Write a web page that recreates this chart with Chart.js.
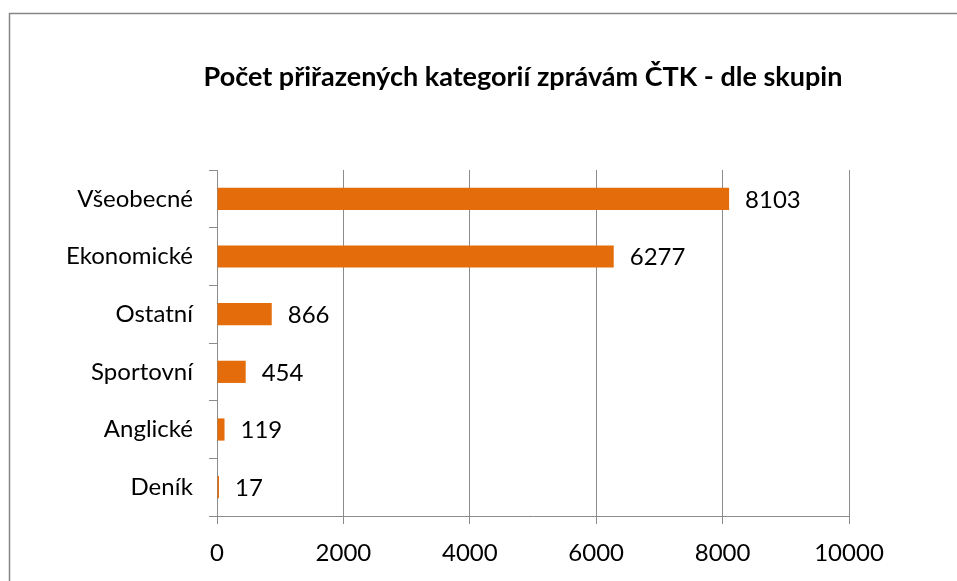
<!DOCTYPE html>
<html>
<head>
<meta charset="utf-8">
<script src="https://cdn.jsdelivr.net/npm/chart.js@4"></script>
<style>
  html, body { margin: 0; padding: 0; background: #fff; }
  #wrap { width: 957px; height: 581px; position: relative; }
</style>
</head>
<body>
<div id="wrap"><canvas id="myChart" width="957" height="581"></canvas></div>
<script>
const titulek = 'Počet přiřazených kategorií zprávám ČTK - dle skupin'
const skupiny = ['Všeobecné', 'Ekonomické', 'Ostatní', 'Sportovní', 'Anglické', 'Deník']
const pocty = [8103, 6277, 866, 454, 119, 17]
const osaX = [0, 2000, 4000, 6000, 8000, 10000]

const oranzova = '#E46C0A'
const seda = '#8C8C8C'
const pismo = 'Lato, "Open Sans", sans-serif'

// ramecek a nadpis
const ramecek = {
  id: 'ramecek',
  beforeDraw(chart) {
    const c = chart.ctx
    c.save()
    c.fillStyle = '#fff'
    c.fillRect(0, 0, chart.width, chart.height)
    c.strokeStyle = '#868686'
    c.lineWidth = 1.5
    c.beginPath()
    c.moveTo(9.5, chart.height)
    c.lineTo(9.5, 13.5)
    c.lineTo(chart.width, 13.5)
    c.stroke()
    c.fillStyle = '#000'
    c.font = 'bold 27px ' + pismo
    c.textAlign = 'center'
    c.textBaseline = 'middle'
    c.fillText(titulek, 523, 77)
    c.restore()
  }
}

// hodnoty za koncem sloupce
const popisky = {
  id: 'popisky',
  afterDatasetsDraw(chart) {
    const c = chart.ctx
    const meta = chart.getDatasetMeta(0)
    c.save()
    c.fillStyle = '#000'
    c.font = '24px ' + pismo
    c.textAlign = 'left'
    c.textBaseline = 'middle'
    meta.data.forEach((bar, i) => {
      c.fillText(String(pocty[i]), bar.x + 16, bar.y + 1)
    })
    c.restore()
  }
}

const data = {
  labels: skupiny,
  datasets: [{
    data: pocty,
    backgroundColor: oranzova,
    borderWidth: 0,
    minBarLength: 2,
    barPercentage: 0.385,
    categoryPercentage: 1
  }]
}

const opcoes = {
  indexAxis: 'y',
  responsive: false,
  animation: false,
  layout: {
    padding: { top: 170, left: 0, right: 108, bottom: 0 }
  },
  plugins: {
    legend: { display: false },
    tooltip: { enabled: false }
  },
  scales: {
    x: {
      min: 0,
      max: 10000,
      afterBuildTicks(axis) {
        axis.ticks = osaX.map(v => ({ value: v }))
      },
      afterFit(axis) { axis.height = 65 },
      grid: { color: seda, tickLength: 8, lineWidth: 1 },
      border: { color: seda },
      ticks: {
        color: '#000',
        padding: 15,
        maxRotation: 0,
        callback: v => String(v),
        font: { family: pismo, size: 24 }
      }
    },
    y: {
      afterFit(axis) { axis.width = 217 },
      grid: { color: seda, tickLength: 8, drawOnChartArea: false, offset: true },
      border: { color: seda },
      ticks: {
        color: '#000',
        padding: 16,
        font: { family: pismo, size: 24 }
      }
    }
  }
}

const grafico = new Chart(document.getElementById('myChart'), {
  type: 'bar',
  data: data,
  options: opcoes,
  plugins: [ramecek, popisky]
})
</script>
</body>
</html>
